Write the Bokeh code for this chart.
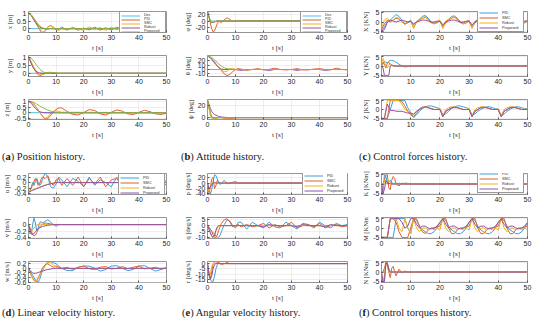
from bokeh.plotting import figure
from bokeh.models import Range1d, FixedTicker, Legend, LegendItem, Div, CustomJSTickFormatter
from bokeh.layouts import column, row
from bokeh.embed import file_html
from bokeh.resources import INLINE

# ---------------- time grids ----------------
t_a = [0, 0.5, 1, 1.5, 2, 2.5, 3, 3.5, 4, 4.5, 5, 6, 7, 8, 9, 10, 11, 12,
       14, 16, 18, 20, 22, 24, 26, 28, 30, 32, 34, 36, 38, 40, 42, 44, 46, 48, 50]
t_s = [0, 0.5, 1, 1.5, 2, 2.5, 3, 3.5, 4, 4.5, 5, 6, 7, 8, 9, 10, 11, 12, 50]
t_c = list(range(0, 51))
t_des = [0, 50]
des_zero = [0, 0]
x_ticks = [0, 10, 20, 30, 40, 50]

# ---------------- (a) position ----------------
a1_pid = [1.0, 0.97, 0.88, 0.74, 0.58, 0.42, 0.26, 0.1, -0.06, -0.2, -0.3, -0.18, 0.12, 0.2, 0.06, -0.1, -0.04, 0.1,
          -0.08, 0.06, -0.1, 0.04, -0.08, 0.1, -0.1, 0.06, -0.08, 0.1, -0.06, 0.08, -0.1, 0.05, -0.08, 0.1, -0.06, 0.08, -0.05]
a1_smc = [1.0, 0.98, 0.9, 0.78, 0.62, 0.47, 0.32, 0.18, 0.04, -0.1, -0.22, -0.16, 0.1, 0.2, 0.12, -0.04, -0.12, 0.02,
          -0.1, 0.1, -0.04, -0.1, 0.12, -0.04, 0.08, -0.12, 0.1, -0.06, 0.1, -0.12, 0.06, -0.08, 0.12, -0.06, 0.1, -0.1, 0.04]
a1_rob = [1.0, 0.95, 0.85, 0.71, 0.56, 0.42, 0.3, 0.2, 0.12, 0.06, 0.02, -0.02, -0.02, 0.0, 0.0, 0.0, 0.0, 0.0, 0.0]
a1_pro = [1.0, 0.97, 0.9, 0.8, 0.67, 0.54, 0.41, 0.3, 0.2, 0.12, 0.06, 0.01, 0.0, 0.0, 0.0, 0.0, 0.0, 0.0, 0.0]

a2_pid = [1.0, 0.84, 0.64, 0.45, 0.28, 0.13, 0.01, -0.09, -0.15, -0.13, -0.08, 0.0, 0.05, 0.06, 0.03, 0.0, -0.01, 0.0, 0.0]
a2_smc = [1.0, 0.9, 0.72, 0.53, 0.36, 0.21, 0.09, 0.0, -0.05, -0.07, -0.06, -0.02, 0.03, 0.05, 0.03, 0.01, 0.0, 0.0, 0.0]
a2_rob = [1.0, 0.8, 0.6, 0.42, 0.28, 0.18, 0.1, 0.05, 0.02, 0.01, 0.0, 0.0, 0.0, 0.0, 0.0, 0.0, 0.0, 0.0, 0.0]
a2_pro = [1.0, 0.98, 0.93, 0.84, 0.72, 0.6, 0.48, 0.37, 0.27, 0.19, 0.12, 0.03, 0.0, 0.03, 0.04, 0.02, 0.0, 0.0, 0.0]

a3_pid = [1.0, 0.99, 0.95, 0.87, 0.75, 0.6, 0.43, 0.25, 0.07, -0.12, -0.3, -0.55, -0.52, -0.25, 0.08, 0.3, 0.42, 0.44,
          0.12, -0.15, -0.2, 0.02, 0.28, 0.2, -0.1, -0.2, 0.04, 0.25, 0.14, -0.1, -0.16, 0.04, 0.22, 0.1, -0.1, -0.15, -0.05]
a3_smc = [1.0, 0.99, 0.95, 0.87, 0.75, 0.6, 0.43, 0.25, 0.07, -0.12, -0.28, -0.5, -0.38, -0.08, 0.12, 0.18, 0.12, 0.05, 0.0]
a3_rob = [1.0, 0.95, 0.84, 0.69, 0.53, 0.39, 0.27, 0.18, 0.11, 0.06, 0.03, 0.0, 0.0, 0.0, 0.0, 0.0, 0.0, 0.0, 0.0]
a3_pro = [1.0, 1.0, 0.98, 0.95, 0.9, 0.84, 0.77, 0.7, 0.62, 0.55, 0.48, 0.35, 0.24, 0.15, 0.08, 0.04, 0.02, 0.0, 0.0]

# ---------------- (b) attitude ----------------
b1_pid = [30, 14, -6, -24, -34, -31, -20, -8, 0, -3, -5, 4, 10, 5, -2, 0, 1, 0, 0]
b1_smc = [30, 12, -2, -6, -5, -3, -1, 0, 0, 0, 0, 0, 0, 0, 0, 0, 0, 0, 0]
b1_rob = [30, 14, 0, -4, -5, -3, -1, 0, 0, 0, 0, 0, 0, 0, 0, 0, 0, 0, 0]
b1_pro = [30, 16, 3, -3, -4, -3, -1, 0, 0, 0, 0, 0, 0, 0, 0, 0, 0, 0, 0]

b2_pid = [30, 29.5, 28, 25, 21, 17, 13, 9, 5, 1, -3, -10, -14, -11, -5, 0, 2, 1,
          -2, 0, 2, -1, 0, 3, 0, -1, 0, 2, -1, -1, 1, 2, 0, -1, 3, 0, -1]
b2_smc = [30, 29.5, 28, 25, 21, 17, 13, 9, 5, 1, -2, -5, -4, 2, 3, 0, -1, 0, 0]
b2_rob = [30, 29, 27, 23, 19, 15, 11, 8, 5, 3, 1, 0, 0, 0, 0, 0, -1, -2,
          0, 0, 0, 0, -2, 0, 0, 0, 0, -2, 0, 0, 0, 0, -2, 0, 0, 0, 0]
b2_pro = [30, 30, 29, 27.5, 25, 22, 19, 16, 13, 10, 7.5, 4, 2, 0.5, 0, 0, 0, 0, 0]

b3_pid = [28, 17, 7, 1, -1, -2, -1, 0, 0, 0, 0, -1, -1, -1, -1, 0, 0, 0, 0]
b3_smc = [28, 15, 4, -1, -3, -3, -2, -1, 0, 0, 0, 0, 0, 0, 0, 0, 0, 0, 0]
b3_rob = [28, 22, 15, 10, 7, 5, 4, 3, 2, 1.5, 1, 0.5, 0.2, 0, 0, 0, 0, 0, 0]
b3_pro = [28, 18, 8, 2, 0, -1, -1, 0, 0, 0, 0, 0, 0, 0, 0, 0, 0, 0, 0]

# ---------------- (c) control forces ----------------
c1_pid = [-5, -2.5, 0, 1, 2.5, 4, 3, 1, -1, -0.5, 0.5,
          -1.5, 0, 1.5, 3, 3.5, 2, 0, -1, -0.5, 0.5,
          -2, 0, 1.5, 3, 3.2, 2, 0, -1, -0.5, 0.5,
          -2, 0, 1.5, 2.8, 3, 2, 0, -1, -0.5, 0.5,
          -1.5, 0, 1.5, 3, 3.2, 2, 0, -1, -0.5, 0.5]
c1_smc = [-4, -1, 1, 0, 1, 2, 1.5, 0, -1, 0, 0.5,
          -3, 0, 1, 2, 2.5, 1.5, 0, -0.5, 0, 0.5,
          -3, -0.5, 1, 2, 2.5, 1.5, 0, -0.5, 0, 0.5,
          -3, -0.5, 1, 2, 2.2, 1.5, 0, -0.5, 0, 0.5,
          -3, -0.5, 1, 2, 2.5, 1.5, 0, -0.5, 0, 0.5]
c1_rob = [-3, 1, 2, 0.5, 1, 2.5, 2, 0, -1.5, 0, 1,
          -3.5, 0.5, 1.5, 2, 3, 1, -0.5, -1, 0, 1,
          -3.5, 0.5, 1.5, 2, 2.8, 1, -0.5, -1, 0, 1,
          -3.5, 0.5, 1.5, 2, 2.5, 1, -0.5, -1, 0, 1,
          -3.5, 0.5, 1.5, 2, 2.8, 1, -0.5, -1, 0, 1]
c1_pro = [-5, -4, 0, 1, 0.5, 0, 0.5, 1, 0.5, 0, 0.5,
          -1, 0, 0.5, 1, 1, 0.5, 0, 0, 0.5, 0.5,
          -1.5, 0, 0.5, 1, 1, 0.5, 0, 0, 0.5, 0.5,
          -1.5, 0, 0.5, 1, 1, 0.5, 0, 0, 0.5, 0.5,
          -1, 0, 0.5, 1, 1, 0.5, 0, 0, 0.5, 0.5]

c2_pid = [0, 1, 2.5, 2, 1.5, 2.5, 3, 3, 2.8, 2.5, 2, 1, 0, -0.5, -0.3, 0, 0, 0, 0]
c2_smc = [0, 2, 1, -1, 1.5, 2, 1, 0.5, 0, 0, 0, 0, 0, 0, 0, 0, 0, 0, 0]
c2_rob = [0, 4, 2, 0, -1, 0.5, 1, 0.5, 0, 0, 0, 0, 0, 0, 0, 0, 0, 0, 0]
c2_pro = [0, -1, -5, -5, -5, -5, 0, 0.5, 0.3, 0, 0, 0, 0, 0, 0, 0, 0, 0, 0]

c3_pid = [-5, -5, -5, 0, 5, 5, 5, 5, 5, 1, -2,
          -4.5, -3, -1, 0.5, 1.5, 2, 2, 1.5, 1, 0.5,
          -3, -2.5, -1, 0.5, 1.5, 2, 2, 1.5, 1, 0.5,
          -3, -2.5, -1, 0, 1, 1.5, 1.5, 1, 0.5, 0,
          -3.5, -2.5, -1, 0, 1, 1.5, 1.5, 1, 0.5, 0.5]
c3_smc = [-5, -5, -5, 5, 5, 5, 5, 4.5, 2, -1, -3,
          -4, -2, 0, 1, 1.5, 1, 0.5, 0, 0, 0.5,
          -4, -1, 0, 1, 1.5, 1, 0.5, 0, 0, 0,
          -4, -1, 0, 1, 1.5, 1, 0.5, 0, 0, 0,
          -4, -1, 0, 1, 1.5, 1, 0.5, 0, 0, 0]
c3_rob = [-5, -5, 5, 5, 5, 5, 5, 3, 0, -1, -2,
          -3, -1, 0.5, 1.5, 1.5, 1, 0.5, 0, 0, 0.5,
          -3.5, 0, 1, 1.5, 1.5, 1, 0.5, 0, 0, 0.5,
          -3.5, 0, 1, 1.5, 1.5, 1, 0.5, 0, 0, 0.5,
          -3.5, 0, 1, 1.5, 1.5, 1, 0.5, 0, 0, 0.5]
c3_pro = [-5, -5, 3, -0.5, -0.5, -1, -1, -1, -1.5, -2, -2,
          -2.5, -1, 0, 1, 1.5, 1, 0.5, 0, 0, 0,
          -4, -1, 0, 1, 1, 1, 0.5, 0, 0, 0,
          -4, -1, 0, 1, 1, 1, 0.5, 0, 0, 0,
          -4, -1, 0, 1, 1, 1, 0.5, 0, 0, 0]

# ---------------- (d) linear velocity ----------------
d1_pid = [-0.35, -0.3, -0.15, 0.0, -0.1, 0.05, 0.15, 0.0, -0.1, -0.05, 0.1, 0.35, 0.2, -0.15, -0.2, -0.05, 0.2, 0.1,
          -0.15, 0.15, 0.05, -0.15, 0.2, -0.1, 0.1, 0.0, -0.15, 0.2, -0.05, 0.1, -0.15, 0.15, -0.05, 0.2, -0.1, 0.05, -0.1]
d1_smc = [-0.35, -0.3, -0.2, -0.1, 0.05, 0.15, 0.05, -0.1, -0.05, 0.1, 0.2, 0.15, 0.25, 0.0, -0.1, 0.1, 0.15, -0.1,
          0.15, -0.1, 0.2, -0.15, 0.15, -0.05, 0.2, -0.15, 0.1, 0.15, -0.15, 0.2, -0.1, 0.15, -0.1, 0.15, -0.05, 0.1, 0.05]
d1_rob = [-0.3, -0.3, -0.28, -0.26, -0.24, -0.22, -0.2, -0.18, -0.16, -0.14, -0.12, -0.09, -0.06, -0.04, -0.02, 0.0, 0.0, 0.0, 0.0]
d1_pro = [-0.35, -0.33, -0.3, -0.28, -0.26, -0.24, -0.22, -0.2, -0.18, -0.16, -0.14, -0.1, -0.07, -0.04, -0.02, 0.0, 0.01, 0.0, 0.0]

d2_pid = [0.0, -0.2, -0.3, 0.0, 0.2, 0.05, -0.2, -0.1, 0.05, 0.1, 0.05, 0.1, 0.15, 0.08, 0.0, -0.05, 0.0, 0.0, 0.0]
d2_smc = [0.0, -0.1, -0.2, -0.3, -0.35, -0.33, -0.25, -0.15, -0.08, -0.03, 0.0, 0.05, 0.04, 0.02, 0.0, 0.0, 0.0, 0.0, 0.0]
d2_rob = [-0.1, -0.3, -0.25, -0.15, -0.1, -0.05, -0.02, 0.0, 0.02, 0.02, 0.01, 0.0, 0.0, 0.0, 0.0, 0.0, 0.0, 0.0, 0.0]
d2_pro = [0.0, -0.15, -0.28, -0.3, -0.28, -0.22, -0.17, -0.13, -0.1, -0.08, -0.06, -0.04, -0.02, -0.01, 0.0, 0.0, 0.0, 0.0, 0.0]

d3_pid = [0.0, -0.1, -0.2, -0.3, -0.4, -0.5, -0.58, -0.6, -0.5, -0.3, -0.1, 0.15, 0.28, 0.3, 0.25, 0.2, 0.1, 0.0,
          -0.1, -0.1, 0.05, 0.1, 0.1, 0.0, -0.12, -0.05, 0.1, 0.12, 0.0, -0.1, -0.05, 0.1, 0.12, 0.0, -0.12, -0.05, 0.05]
d3_smc = [0.0, -0.15, -0.3, -0.42, -0.5, -0.55, -0.55, -0.45, -0.3, -0.15, 0.0, 0.15, 0.2, 0.12, 0.05, 0.1, 0.05, 0.0,
          0.05, -0.05, 0.05, 0.1, -0.02, -0.05, 0.05, 0.08, -0.03, 0.0, 0.08, -0.02, 0.05, 0.1, -0.02, 0.0, 0.05, -0.03, 0.0]
d3_rob = [0.0, -0.15, -0.32, -0.45, -0.55, -0.58, -0.5, -0.4, -0.3, -0.2, -0.1, 0.1, 0.25, 0.25, 0.15, 0.05, 0.0, 0.0, 0.0]
d3_pro = [0.0, -0.08, -0.15, -0.2, -0.22, -0.22, -0.2, -0.18, -0.16, -0.14, -0.12, -0.08, -0.05, -0.03, -0.01, 0.0, 0.0, 0.0, 0.0]

# ---------------- (e) angular velocity ----------------
e1_pid = [0, -20, -40, -25, 5, 30, 28, 15, 0, -5, 0, 10, -3, 0, 3, 5, 0, 0, 0]
e1_smc = [0, -35, -20, 15, 20, -20, -10, 10, 5, 0, -2, 0, 0, 0, 0, 0, 0, 0, 0]
e1_rob = [0, -30, -10, 0, 3, 0, 0, 0, 0, 0, 0, 0, 0, 0, 0, 0, 0, 0, 0]
e1_pro = [0, -20, -15, -5, 0, 2, 0, 0, 0, 0, 0, 0, 0, 0, 0, 0, 0, 0, 0]

e2_pid = [0, -1, -3, -5, -6, -7, -9, -10, -10, -8, -5, 1, 5, 4, 0, -2, 3, 3,
          -3, 3, 0, -2, 3, -1, -2, 3, 0, -3, 2, 1, -2, 3, 0, -2, 2, 0, 1]
e2_smc = [0, -2, -3, -5, -8, -10, -10, -8, -4, -1, 2, 5, 6, 3, -1, 0, 1, -1,
          1, -1, 0, 2, -2, 1, -1, 0, 3, -2, 0, 1, -1, 2, -2, 0, 1, -1, 0]
e2_rob = [0, -3, -6, -9, -10, -8, -5, -2, 0, 0, 0, 0, 0, 0, 0, 0, 0, 0, 0]
e2_pro = [0, -3, -6, -9, -10, -8, -4, -1, 0, 0, 0, 0, 0, 0, 0, 0, 0, 0,
          0, 0, 0, -1, 1, 0, 0, 0, 0, -1, 1, 0, 0, 0, -1, 1, 0, 0, 0]

e3_pid = [0, -8, -15, -17, -17, -12, -5, -1, 1, 0, 0, 0, 0, 0, 0, 0, 0, 0, 0]
e3_smc = [0, -10, -15, -8, 0, 1, 0, 1, 1, 0, -1, 0, 1, 0, 0, 0, 0, 0, 0]
e3_rob = [0, -12, -10, -3, 0, 0, 0, 0, 0, 0, 0, 0, 0, 0, 0, 0, 0, 0, 0]
e3_pro = [0, -10, -15, -12, -5, -1, 0, 0, 0, 0, 0, 0, 0, 0, 0, 0, 0, 0, 0]

# ---------------- (f) control torques ----------------
f1_pid = [0, -5, 5, 4, 0, 1, 2, 1, 0, 0.5, 0, 0.5, 0, 0.5, 0.3, 0, 0, 0, 0]
f1_smc = [0, 0, 2, 5, 5, -2, -3, 2, 4, 3, 0, -1, 0.5, 0, 0, 0, 0, 0, 0]
f1_rob = [0, -2, 2, 0, 1, 2, 1, 0, 0, 0, 0, 0, 0, 0, 0, 0, 0, 0, 0]
f1_pro = [0, -5, -3, 2, 1, 0, 0.5, 0, 0, 0, 0, 0, 0, 0, 0, 0, 0, 0, 0]

f2_pid = [-5, -5, -5, -5, -5, 5, 5, 5, 5, 0, -3,
          5, 4, 1, -1, -2, -3, -3, -2, 0, 3,
          5, 4, 1, -1, -2, -3, -3, -2, 0, 3,
          5, 4, 1, -1, -2, -3, -3, -2, 0, 3,
          5, 4, 1, -1, -2, -3, -3, -2, 0, 3]
f2_smc = [-5, -5, -5, 5, 5, 3, -2, -5, -5, -5, 0,
          5, 5, 1, -2, -3, -1, 0, 0, 0.5, 1,
          5, 5, 0, -3, -3, -1, 0, 0, 0.5, 1,
          5, 5, 0, -3, -3, -1, 0, 0, 0.5, 1,
          5, 5, 0, -3, -3, -1, 0, 0, 0.5, 1]
f2_rob = [-5, -5, -5, 5, 5, 5, 0, -2, 5, 0, -3,
          5, 0, -2, 0, 0, -1, 0, -1, 0, -1,
          5, 0, -2, 0, 0, -1, 0, -1, 0, -1,
          5, 0, -2, 0, 0, -1, 0, -1, 0, -1,
          5, 0, -2, 0, 0, -1, 0, -1, 0, -1]
f2_pro = [-5, -5, -5, 5, 5, 5, 5, 3, 0, 1, 5,
          5, 2, 0, 1, 1, 0, -0.5, 0, 1, 3,
          5, 2, 0, 1, 1, 0, -0.5, 0, 1, 3,
          5, 2, 0, 1, 1, 0, -0.5, 0, 1, 3,
          5, 2, 0, 1, 1, 0, -0.5, 0, 1, 3]

f3_pid = [-5, -5, -5, 5, 5, 2, 0, 0, 0, 0, 0, 0, 0, 0, 0, 0, 0, 0, 0]
f3_smc = [0, 0, 2, 5, 5, 0, -3, 2, 3, 0, -2, 1.5, -0.5, 0.5, 0, 0, 0, 0, 0]
f3_rob = [0, -5, -2, 5, 3, 0, 0, 0, 0, 0, 0, 0, 0, 0, 0, 0, 0, 0, 0]
f3_pro = [0, -5, -5, 5, 4, 1, 0, 0, 0, 0, 0, 0, 0, 0, 0, 0, 0, 0, 0]

# ---------------- styles ----------------
C_DES = "#4DBEEE"
C_BLUE = "#3AA0DA"
C_ORANGE = "#E0602C"
C_YELLOW = "#EDB120"
C_PURPLE = "#9150A8"
C_GREEN = "#86BA3E"

TICK_FONT = "Liberation Sans"
LABEL_FONT = "Liberation Serif"

# column geometry: (figure width, left border, right border)
COL = {"a": (181, 23, 15), "b": (178, 22, 12), "c": (175, 22, 7)}
# row geometry per subplot: (height, top border); frames are 23 px tall
ROW1 = [(54, 11), (44, 1), (43, 1)]
ROW2 = [(53, 10), (44, 1), (44, 1)]


def subplot(col, geo, yr, yticks, ylabel, series):
    w, lb, rb = COL[col]
    h, tb = geo
    p = figure(width=w, height=h, output_backend="svg", toolbar_location=None, title=None,
               x_range=Range1d(0, 50), y_range=Range1d(*yr),
               min_border_left=lb, min_border_right=rb, min_border_top=tb, min_border_bottom=h - tb - 23,
               margin=(0, 0, 0, 0))
    p.background_fill_color = "white"
    p.border_fill_color = "white"
    p.outline_line_color = "#7a7a7a"
    p.outline_line_width = 0.8
    p.xaxis.ticker = FixedTicker(ticks=x_ticks)
    p.yaxis.ticker = FixedTicker(ticks=yticks)
    fmt = CustomJSTickFormatter(code="return String(Math.round(tick*100)/100)")
    for ax in (p.xaxis[0], p.yaxis[0]):
        ax.formatter = fmt
        ax.axis_line_color = None
        ax.major_tick_in = 2
        ax.major_tick_out = 0
        ax.major_tick_line_color = "#555555"
        ax.minor_tick_line_color = None
        ax.major_label_text_font = TICK_FONT
        ax.major_label_text_font_size = "7px"
        ax.major_label_text_color = "#262626"
        ax.major_label_standoff = 2
        ax.axis_label_text_font = LABEL_FONT
        ax.axis_label_text_font_style = "normal"
        ax.axis_label_text_color = "#262626"
        ax.axis_label_standoff = 1
    p.xaxis.axis_label_text_font_size = "7px"
    p.yaxis.axis_label_text_font_size = "6.5px"
    p.xaxis.axis_label = "t [s]"
    p.yaxis.axis_label = ylabel
    p.xgrid.ticker = FixedTicker(ticks=x_ticks)
    p.ygrid.ticker = FixedTicker(ticks=yticks)
    p.grid.grid_line_color = "#e3e3e3"
    p.grid.grid_line_width = 0.6
    rends = []
    for name, t, y, color in series:
        assert len(t) == len(y), (ylabel, name, len(t), len(y))
        r = p.line(t, y, line_color=color, line_width=1.0)
        rends.append((name, r))
    return p, rends


def add_legend(p, rends, font, label_h, loc):
    leg = Legend(items=[LegendItem(label=n, renderers=[r]) for n, r in rends],
                 location=loc, orientation="vertical",
                 label_text_font=TICK_FONT, label_text_font_size=font, label_text_color="#333333",
                 label_height=label_h, label_width=20, glyph_height=3, glyph_width=19, label_standoff=4,
                 spacing=0, padding=1, margin=0,
                 border_line_color="#333333", border_line_width=0.6,
                 background_fill_color="white", background_fill_alpha=1.0)
    p.add_layout(leg)


def caption(letter, text, width, height, top, left):
    html = ('<div style="margin-top:%dpx;margin-left:%dpx;font-family:\'Liberation Serif\',serif;font-size:10.5px;'
            'color:#1a1a1a;white-space:nowrap">(<b>%s</b>) %s</div>' % (top, left, letter, text))
    return Div(text=html, width=width, height=height, margin=(0, 0, 0, 0))


def five(t1, pid, t2, smc, t3, rob, t4, pro):
    return [("Des", t_des, des_zero, C_DES), ("PID", t1, pid, C_ORANGE), ("SMC", t2, smc, C_YELLOW),
            ("Robust", t3, rob, C_PURPLE), ("Proposed", t4, pro, C_GREEN)]


def four(t1, pid, t2, smc, t3, rob, t4, pro):
    return [("PID", t1, pid, C_BLUE), ("SMC", t2, smc, C_ORANGE),
            ("Robust", t3, rob, C_YELLOW), ("Proposed", t4, pro, C_PURPLE)]


# ---------- panel a ----------
pa1, ra = subplot("a", ROW1[0], (-0.25, 1.12), [0, 0.5, 1], "x [m]", five(t_a, a1_pid, t_a, a1_smc, t_s, a1_rob, t_s, a1_pro))
pa2, _ = subplot("a", ROW1[1], (-0.2, 1.1), [0, 0.5, 1], "y [m]", five(t_s, a2_pid, t_s, a2_smc, t_s, a2_rob, t_s, a2_pro))
pa3, _ = subplot("a", ROW1[2], (-0.6, 1.18), [-0.5, 0, 0.5, 1], "z [m]", five(t_a, a3_pid, t_s, a3_smc, t_s, a3_rob, t_s, a3_pro))
add_legend(pa1, ra, "3.6px", 4, "top_right")

# ---------- panel b ----------
pb1, rb_ = subplot("b", ROW1[0], (-36, 30), [-20, 0, 20], "φ [deg]", five(t_s, b1_pid, t_s, b1_smc, t_s, b1_rob, t_s, b1_pro))
pb2, _ = subplot("b", ROW1[1], (-16, 32), [-10, 0, 10, 20], "θ [deg]", five(t_a, b2_pid, t_s, b2_smc, t_a, b2_rob, t_s, b2_pro))
pb3, _ = subplot("b", ROW1[2], (-3, 29), [0, 20], "ψ [deg]", five(t_s, b3_pid, t_s, b3_smc, t_s, b3_rob, t_s, b3_pro))
add_legend(pb1, rb_, "3.6px", 4, "top_right")

# ---------- panel c ----------
pc1, rc = subplot("c", ROW1[0], (-5.6, 5.6), [-5, 0, 5], "X [KN]", four(t_c, c1_pid, t_c, c1_smc, t_c, c1_rob, t_c, c1_pro))
pc2, _ = subplot("c", ROW1[1], (-5.6, 5.6), [-5, 0, 5], "Y [KN]", four(t_s, c2_pid, t_s, c2_smc, t_s, c2_rob, t_s, c2_pro))
pc3, _ = subplot("c", ROW1[2], (-5.6, 5.6), [-5, 0, 5], "Z [KN]", four(t_c, c3_pid, t_c, c3_smc, t_c, c3_rob, t_c, c3_pro))
add_legend(pc1, rc, "3.8px", 5, (96, 0))

# ---------- panel d ----------
pd1, rd = subplot("a", ROW2[0], (-0.43, 0.33), [-0.4, -0.2, 0, 0.2], "u [m/s]", four(t_a, d1_pid, t_a, d1_smc, t_s, d1_rob, t_s, d1_pro))
pd2, _ = subplot("a", ROW2[1], (-0.43, 0.22), [-0.4, -0.2, 0], "v [m/s]", four(t_s, d2_pid, t_s, d2_smc, t_s, d2_rob, t_s, d2_pro))
pd3, _ = subplot("a", ROW2[2], (-0.62, 0.3), [-0.6, -0.4, -0.2, 0, 0.2], "w [m/s]", four(t_a, d3_pid, t_a, d3_smc, t_s, d3_rob, t_s, d3_pro))
add_legend(pd1, rd, "3.8px", 5, (90, -3))

# ---------- panel e ----------
pe1, re_ = subplot("b", ROW2[0], (-42, 35), [-40, -20, 0, 20], "p [deg/s]", four(t_s, e1_pid, t_s, e1_smc, t_s, e1_rob, t_s, e1_pro))
pe2, _ = subplot("b", ROW2[1], (-11, 7), [-10, -5, 0, 5], "q [deg/s]", four(t_a, e2_pid, t_a, e2_smc, t_s, e2_rob, t_a, e2_pro))
pe3, _ = subplot("b", ROW2[2], (-18, 2), [-15, -10, -5, 0], "r [deg/s]", four(t_s, e3_pid, t_s, e3_smc, t_s, e3_rob, t_s, e3_pro))
add_legend(pe1, re_, "3.8px", 5, (95, -1))

# ---------- panel f ----------
pf1, rf = subplot("c", ROW2[0], (-5.6, 5.6), [-5, 0, 5], "K [KNm]", four(t_s, f1_pid, t_s, f1_smc, t_s, f1_rob, t_s, f1_pro))
pf2, _ = subplot("c", ROW2[1], (-5.6, 5.6), [-5, 0, 5], "M [KNm]", four(t_c, f2_pid, t_c, f2_smc, t_c, f2_rob, t_c, f2_pro))
pf3, _ = subplot("c", ROW2[2], (-5.6, 5.6), [-5, 0, 5], "N [KNm]", four(t_s, f3_pid, t_s, f3_smc, t_s, f3_rob, t_s, f3_pro))
add_legend(pf1, rf, "3.8px", 5, (96, 1))

col_a = column(pa1, pa2, pa3, caption("a", "Position history.", 181, 22, 8, 2), margin=(0, 0, 0, 0))
col_b = column(pb1, pb2, pb3, caption("b", "Attitude history.", 178, 22, 8, 0), margin=(0, 0, 0, 0))
col_c = column(pc1, pc2, pc3, caption("c", "Control forces history.", 175, 22, 8, 0), margin=(0, 0, 0, 0))
col_d = column(pd1, pd2, pd3, caption("d", "Linear velocity history.", 181, 16, 1, 2), margin=(0, 0, 0, 0))
col_e = column(pe1, pe2, pe3, caption("e", "Angular velocity history.", 178, 16, 1, 1), margin=(0, 0, 0, 0))
col_f = column(pf1, pf2, pf3, caption("f", "Control torques history.", 175, 16, 1, 0), margin=(0, 0, 0, 0))

layout = column(row(col_a, col_b, col_c, margin=(0, 0, 0, 0)),
                row(col_d, col_e, col_f, margin=(0, 0, 0, 0)), margin=(0, 0, 0, 0))

open("out.html", "w").write(file_html(layout, INLINE))
